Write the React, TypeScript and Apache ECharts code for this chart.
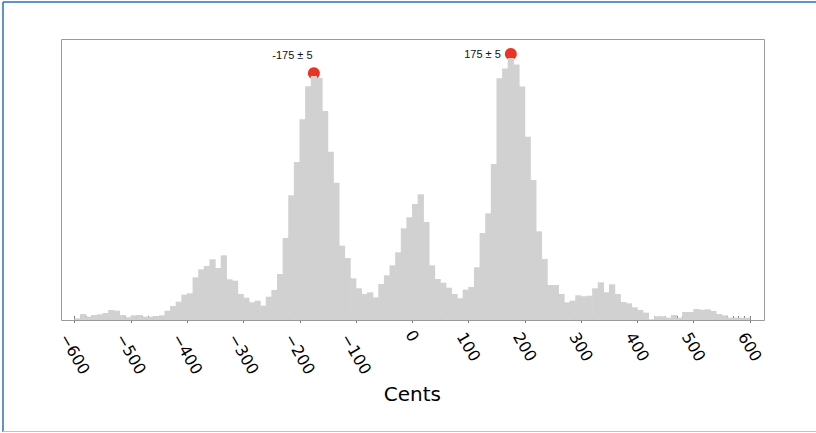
import React, { useEffect, useRef } from "react";
import * as echarts from "echarts";

// Histogram of intervals (cents), bins of 10 cents starting at -600
const binStart = -600;
const binWidth = 10;
const counts = [
  1.7, 6, 3.3, 5, 5.7, 7, 10, 9.3, 5, 2.7,
  4.7, 5, 3.3, 3.3, 4, 4.7, 9.3, 14, 18.3, 25.3,
  26.7, 42.7, 50.7, 54, 60.7, 52, 64.7, 40.7, 39.3, 26,
  22.3, 17.7, 19.3, 14.3, 23.3, 30, 46, 82, 124.7, 158,
  200.7, 233.7, 244, 242, 209, 168.3, 137.3, 74.3, 62, 41.7,
  31.7, 26, 27.7, 22.7, 36, 44.7, 54.7, 67.7, 91.7, 102.7,
  116, 125.7, 98, 54.7, 41, 37.3, 32.3, 26, 21.7, 30.3,
  33, 52.7, 87, 106.7, 156, 241.7, 251.5, 262, 255.5, 233.5,
  183.3, 140, 88.7, 61, 35, 35, 26, 17.7, 19.3, 24.7,
  23.7, 24.3, 31.7, 37.7, 27.7, 35.7, 26, 18, 16.7, 12.7,
  10, 7.3, 0.7, 3.7, 3.7, 2.3, 5, 2.3, 8, 8,
  11, 10.3, 10.7, 9, 6, 4.7, 2.3, 2.3, 2.3, 2.3,
];

const tickValues = [-600, -500, -400, -300, -200, -100, 0, 100, 200, 300, 400, 500, 600];
const tickLabels = ["−600", "−500", "−400", "−300", "−200", "−100", "0", "100", "200", "300", "400", "500", "600"];

const peakCents = [-175, 175];
const peakMarkerHeights = [246.7, 266];
const peakLabels = ["-175 ± 5", "175 ± 5"];

const TICK_FONT = '16px "DejaVu Sans"';
const BAR_COLOR = "#d0d1d0";

export default function App() {
  const ref = useRef<HTMLDivElement>(null);

  useEffect(() => {
    if (!ref.current) return;
    const chart = echarts.init(ref.current, undefined, { renderer: "svg" });

    const canvas = document.createElement("canvas");
    const ctx = canvas.getContext("2d");
    const measure = (t: string) => {
      if (!ctx) return t.length * 10.2;
      ctx.font = TICK_FONT;
      return ctx.measureText(t).width;
    };

    const bins = counts.map((c, i) => [binStart + i * binWidth, binStart + (i + 1) * binWidth, c]);
    const tickData = tickValues.map((v) => [v, 0]);
    const peakData = peakCents.map((c, i) => ({
      value: [c, peakMarkerHeights[i]],
      label:
        i === 0
          ? { show: true, position: "left", distance: 4, offset: [8.7, -18.3], formatter: peakLabels[i] }
          : { show: true, position: "left", distance: 4, formatter: peakLabels[i] },
    }));

    const option: any = {
      animation: false,
      backgroundColor: "#ffffff",
      grid: { left: 74.7, right: 66, top: 40, bottom: 113, containLabel: false },
      xAxis: [
        {
          type: "value",
          min: -600,
          max: 600,
          interval: 100,
          position: "bottom",
          axisLine: { show: false },
          axisTick: { show: true, inside: false, length: 3, lineStyle: { color: "#777", width: 1 } },
          axisLabel: { show: false },
          splitLine: { show: false },
          name: "Cents",
          nameLocation: "middle",
          nameGap: 64,
          nameTextStyle: { fontFamily: "DejaVu Sans", fontSize: 20, color: "#000" },
        },
        {
          type: "value",
          min: -600,
          max: 600,
          interval: 10,
          position: "bottom",
          offset: 0,
          axisLine: { show: false },
          axisTick: { show: true, inside: true, length: 4, lineStyle: { color: "#777", width: 1 } },
          axisLabel: { show: false },
          splitLine: { show: false },
        },
      ],
      yAxis: { type: "value", min: 0, max: 280, show: false },
      graphic: [
        {
          type: "rect",
          z: 100,
          shape: { x: 61.5, y: 39.5, width: 703, height: 281 },
          style: { fill: "none", stroke: "#9a9a9a", lineWidth: 1 },
          silent: true,
        },
        {
          type: "line",
          z: 100,
          shape: { x1: 3, y1: 2, x2: 816, y2: 2 },
          style: { stroke: "#2d6fb3", lineWidth: 1.5 },
          silent: true,
        },
        {
          type: "line",
          z: 100,
          shape: { x1: 3, y1: 2, x2: 3, y2: 432 },
          style: { stroke: "#2d6fb3", lineWidth: 1.5 },
          silent: true,
        },
        {
          type: "line",
          z: 100,
          shape: { x1: 3, y1: 431.5, x2: 816, y2: 431.5 },
          style: { stroke: "#a7c9e4", lineWidth: 1.2 },
          silent: true,
        },
      ],
      series: [
        {
          type: "scatter",
          xAxisIndex: 0,
          yAxisIndex: 0,
          z: 2,
          symbol: "circle",
          symbolSize: 12,
          itemStyle: { color: "#ea3323", opacity: 1 },
          label: {
            color: "#111",
            fontFamily: "Liberation Sans, Arial, sans-serif",
            fontSize: 11,
          },
          data: peakData,
          silent: true,
        },
        {
          type: "custom",
          xAxisIndex: 0,
          yAxisIndex: 0,
          z: 3,
          clip: false,
          encode: { x: [0, 1], y: 2 },
          data: bins,
          silent: true,
          renderItem: (params: any, api: any) => {
            const p0 = api.coord([api.value(0), 0]);
            const p1 = api.coord([api.value(1), api.value(2)]);
            return {
              type: "rect",
              shape: { x: p0[0] - 0.3, y: p1[1], width: p1[0] - p0[0] + 0.6, height: p0[1] - p1[1] },
              style: { fill: BAR_COLOR, stroke: null },
            };
          },
        },
        {
          type: "custom",
          xAxisIndex: 0,
          yAxisIndex: 0,
          z: 4,
          clip: false,
          encode: { x: 0, y: 1 },
          data: tickData,
          silent: true,
          renderItem: (params: any, api: any) => {
            const p = api.coord([api.value(0), 0]);
            const text = tickLabels[params.dataIndex];
            const w = measure(text);
            return {
              type: "text",
              x: p[0],
              y: p[1] + 10.55 + 0.534 * w,
              rotation: -Math.PI / 3,
              style: {
                text,
                font: TICK_FONT,
                fill: "#000",
                align: "center",
                verticalAlign: "middle",
                textAlign: "center",
                textVerticalAlign: "middle",
              },
            };
          },
        },
      ],
    };

    chart.setOption(option);
    return () => chart.dispose();
  }, []);

  return (
    <div
      ref={ref}
      style={{ position: "fixed", left: 0, top: 0, width: 816, height: 433 }}
    />
  );
}
